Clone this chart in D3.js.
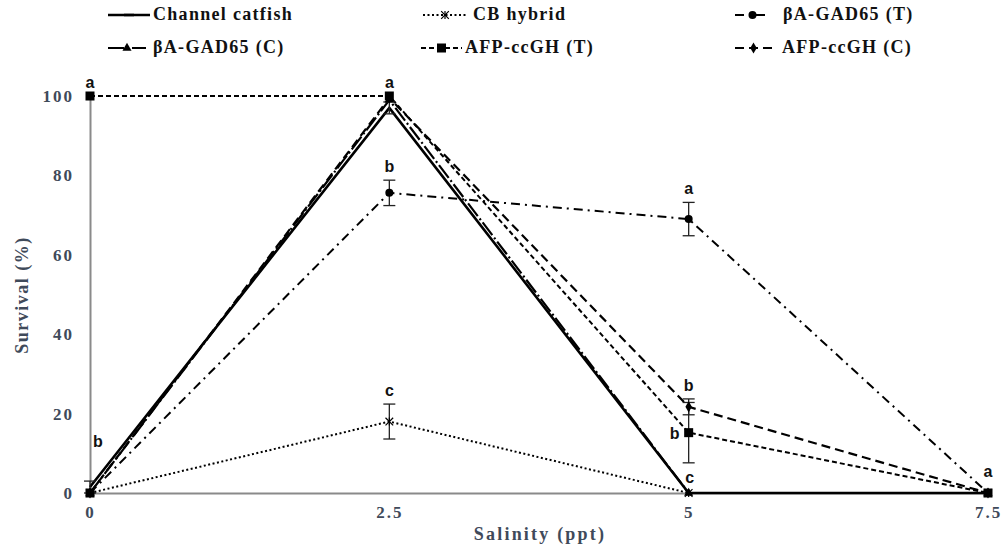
<!DOCTYPE html>
<html>
<head>
<meta charset="utf-8">
<script src="https://cdn.jsdelivr.net/npm/d3@7"></script>
<style>
  html, body { margin: 0; padding: 0; background: #fff; }
  svg { display: block; }
</style>
</head>
<body>
<svg id="chart" width="1005" height="544"></svg>
<script>
// Salinity levels (ppt) on the x axis
const salinity = [0, 2.5, 5, 7.5];
const xTicks = [0, 2.5, 5, 7.5];
const xTickLabels = ["0", "2.5", "5", "7.5"];
const yTicks = [0, 20, 40, 60, 80, 100];

// Survival (%) per line, with standard errors
const seriesNames = ["Channel catfish", "CB hybrid", "βA-GAD65 (T)", "βA-GAD65 (C)", "AFP-ccGH (T)", "AFP-ccGH (C)"];
const channelCatfish = [1.5, 97, 0, 0];
const channelCatfishErr = [1.5, 1.5, 0, 0];
const cbHybrid = [0, 18, 0, 0];
const cbHybridErr = [0, 4.4, 0, 0];
const gadT = [0, 75.6, 69, 0];
const gadTErr = [0, 3.2, 4.2, 0];
const gadC = [0, 99, 0, 0];
const gadCErr = [0, 0, 0, 0];
const afpT = [100, 100, 15.2, 0];
const afpTErr = [0, 0, 7.6, 0];
const afpC = [0, 99.5, 21.7, 0];
const afpCErr = [0, 0, 2, 0];

// Significance letters: [salinity, survival level at which the letter sits, letter]
const sigLetters = [
  [0, 100, "a"], [0, 1.5, "b"],
  [2.5, 100, "a"], [2.5, 78.8, "b"], [2.5, 22.4, "c"],
  [5, 73.2, "a"], [5, 23.7, "b"], [5, 15.2, "b"], [5, 0, "c"],
  [7.5, 0, "a"]
];

const svg = d3.select("#chart");
const x = d3.scaleLinear().domain([0, 7.5]).range([90, 988]);
const y = d3.scaleLinear().domain([0, 100]).range([493, 96]);

const axisColor = "#8a8a8a";
const labelColor = "#3f4a5a";
const serif = "'Liberation Serif', 'Times New Roman', serif";

// Y axis
const gy = svg.append("g").attr("transform", `translate(${x(0)},0)`)
  .call(d3.axisLeft(y).tickValues(yTicks).tickSize(0).tickPadding(16).tickFormat(d3.format("d")));
gy.select(".domain").attr("stroke", axisColor).attr("stroke-width", 2);
gy.selectAll("text").attr("font-family", serif).attr("font-weight", "bold")
  .attr("font-size", 17).attr("letter-spacing", 2).attr("fill", labelColor);

// X axis
const gx = svg.append("g").attr("transform", `translate(0,${y(0)})`)
  .call(d3.axisBottom(x).tickValues(xTicks).tickSize(0).tickPadding(13).tickFormat((d, i) => xTickLabels[i]));
gx.select(".domain").attr("stroke", axisColor).attr("stroke-width", 2);
gx.selectAll("text").attr("font-family", serif).attr("font-weight", "bold")
  .attr("font-size", 17).attr("letter-spacing", 2).attr("fill", labelColor);

// Axis titles
svg.append("text").attr("x", 540).attr("y", 540).attr("text-anchor", "middle")
  .attr("font-family", serif).attr("font-weight", "bold").attr("font-size", 18)
  .attr("letter-spacing", 2.2).attr("fill", labelColor).text("Salinity (ppt)");
svg.append("text").attr("transform", "translate(28,295) rotate(-90)").attr("text-anchor", "middle")
  .attr("font-family", serif).attr("font-weight", "bold").attr("font-size", 18)
  .attr("letter-spacing", 1.5).attr("fill", labelColor).text("Survival (%)");

// Marker drawers
function drawMarker(g, type, cx, cy) {
  if (type === "dash") {
    g.append("line").attr("x1", cx - 5).attr("x2", cx + 5).attr("y1", cy).attr("y2", cy)
      .attr("stroke", "#000").attr("stroke-width", 2.5);
  } else if (type === "star") {
    g.append("path").attr("d", d3.symbol(d3.symbolTimes, 40)()).attr("transform", `translate(${cx},${cy})`)
      .attr("fill", "none").attr("stroke", "#000").attr("stroke-width", 1.2);
    g.append("line").attr("x1", cx).attr("x2", cx).attr("y1", cy - 4).attr("y2", cy + 4)
      .attr("stroke", "#000").attr("stroke-width", 1.2);
  } else if (type === "circle") {
    g.append("circle").attr("cx", cx).attr("cy", cy).attr("r", 4).attr("fill", "#000");
  } else if (type === "triangle") {
    g.append("path").attr("d", d3.symbol(d3.symbolTriangle, 36)()).attr("transform", `translate(${cx},${cy})`).attr("fill", "#000");
  } else if (type === "square") {
    g.append("rect").attr("x", cx - 4.5).attr("y", cy - 4.5).attr("width", 9).attr("height", 9).attr("fill", "#000");
  } else if (type === "diamond") {
    g.append("path").attr("d", d3.symbol(d3.symbolDiamond, 36)()).attr("transform", `translate(${cx},${cy})`).attr("fill", "#000");
  }
}

const series = [
  { name: seriesNames[0], values: channelCatfish, err: channelCatfishErr, dash: null, width: 2.6, marker: "dash" },
  { name: seriesNames[1], values: cbHybrid, err: cbHybridErr, dash: "2,2.5", width: 2, marker: "star" },
  { name: seriesNames[2], values: gadT, err: gadTErr, dash: "9,5,2,5", width: 2, marker: "circle" },
  { name: seriesNames[3], values: gadC, err: gadCErr, dash: "16,3,2,3", width: 2.2, marker: "triangle" },
  { name: seriesNames[4], values: afpT, err: afpTErr, dash: "5,3", width: 2, marker: "square" },
  { name: seriesNames[5], values: afpC, err: afpCErr, dash: "9,5", width: 2.2, marker: "diamond" }
];

const line = d3.line().x((d, i) => x(salinity[i])).y(d => y(d));
const plot = svg.append("g");

// Lines
series.forEach(s => {
  plot.append("path").datum(s.values).attr("d", line)
    .attr("fill", "none").attr("stroke", "#000").attr("stroke-width", s.width)
    .attr("stroke-dasharray", s.dash);
});

// Error bars
const errG = svg.append("g").attr("stroke", "#222").attr("stroke-width", 1.3);
series.forEach(s => {
  s.values.forEach((v, i) => {
    const e = s.err[i];
    if (!e) return;
    const cx = x(salinity[i]);
    const y1 = y(v + e), y2 = y(Math.max(0, v - e));
    errG.append("line").attr("x1", cx).attr("x2", cx).attr("y1", y1).attr("y2", y2);
    errG.append("line").attr("x1", cx - 6).attr("x2", cx + 6).attr("y1", y1).attr("y2", y1);
    errG.append("line").attr("x1", cx - 6).attr("x2", cx + 6).attr("y1", y2).attr("y2", y2);
  });
});

// Markers
const markG = svg.append("g");
series.forEach(s => {
  if (s.marker === "dash") return;
  s.values.forEach((v, i) => drawMarker(markG, s.marker, x(salinity[i]), y(v)));
});
drawMarker(markG, "square", x(0), y(0));

// Significance letters
const letterFont = "'Liberation Sans', Arial, sans-serif";
sigLetters.forEach(([s, v, t]) => {
  let dx = 0, dy = -8;
  if (s === 0 && t === "b") { dx = 8; dy = -40; }
  if (s === 5 && t === "b" && v < 20) { dx = -14; dy = 6; }
  if (s === 5 && t === "c") { dx = 1; dy = -10; }
  if (s === 7.5) { dy = -16; }
  svg.append("text").attr("x", x(s) + dx).attr("y", y(v) + dy)
    .attr("text-anchor", "middle").attr("font-family", letterFont).attr("font-weight", "bold")
    .attr("font-size", 16).attr("fill", "#111").text(t);
});

// Legend
const legendPos = [
  [108, 150, 153, 15], [423, 467, 473, 15], [735, 770, 783, 15],
  [108, 146, 153, 48], [421, 462, 465, 48], [735, 772, 782, 48]
];
const legG = svg.append("g");
series.forEach((s, k) => {
  const [x1, x2, tx, ly] = legendPos[k];
  legG.append("line").attr("x1", x1).attr("x2", x2).attr("y1", ly).attr("y2", ly)
    .attr("stroke", "#000").attr("stroke-width", s.width).attr("stroke-dasharray", s.dash);
  drawMarker(legG, s.marker, (x1 + x2) / 2, ly);
  legG.append("text").attr("x", tx).attr("y", ly + 5).attr("font-family", serif)
    .attr("font-weight", "bold").attr("font-size", 18).attr("letter-spacing", 1.3)
    .attr("fill", "#111").text(s.name);
});
</script>
</body>
</html>
